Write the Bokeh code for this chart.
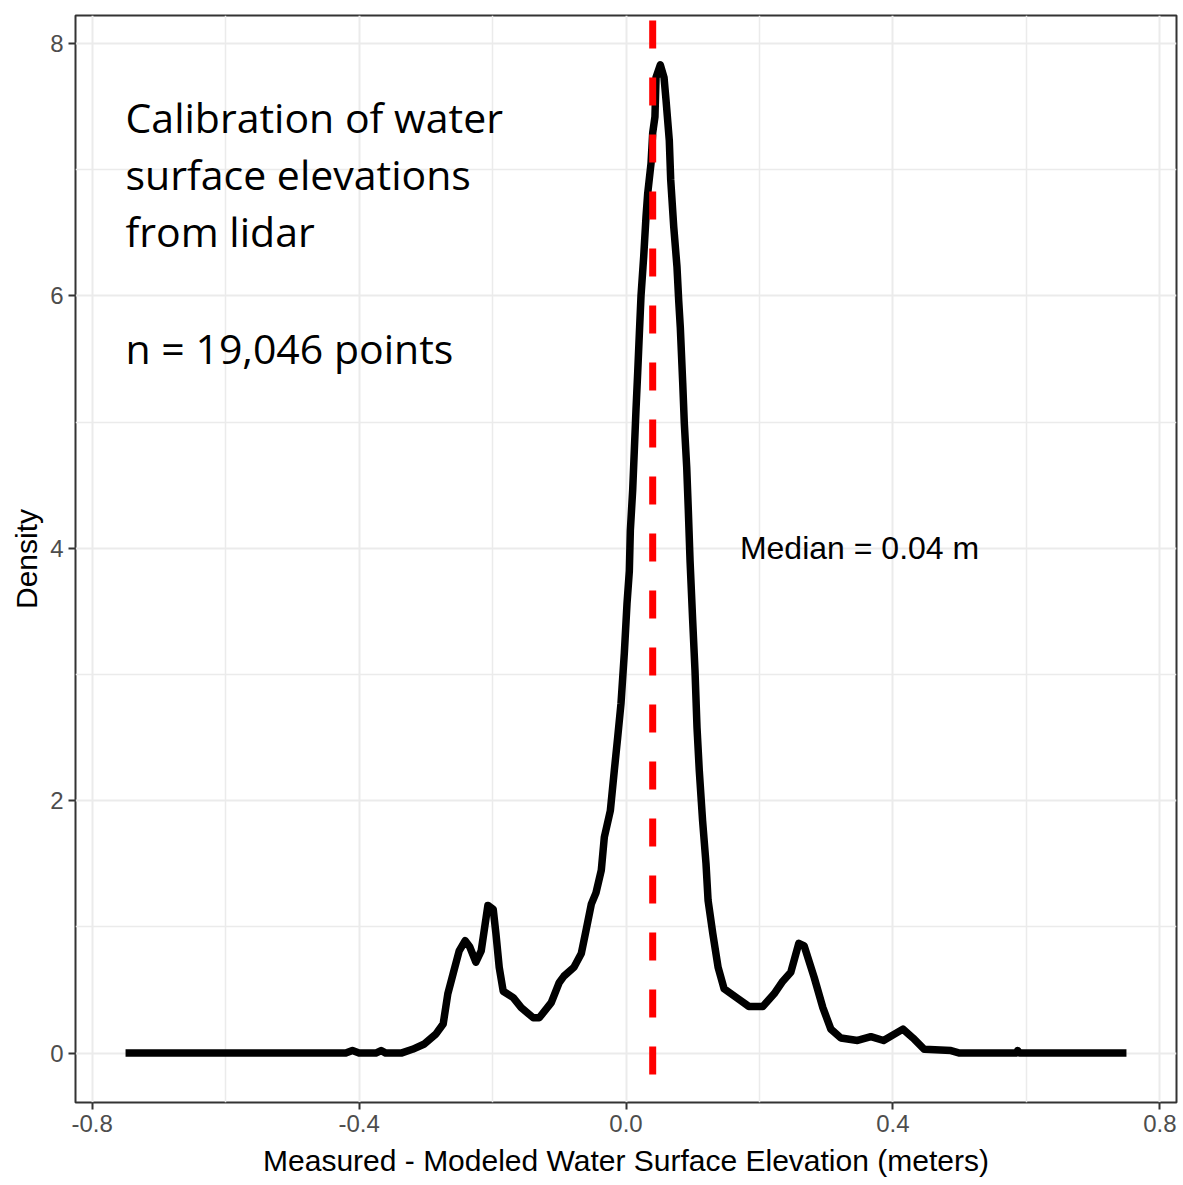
from bokeh.plotting import figure
from bokeh.models import Range1d, FixedTicker, NumeralTickFormatter, Label
from bokeh.embed import file_html
from bokeh.resources import INLINE

# ---- data ----
x_vals = [-0.75, -0.70, -0.60, -0.50, -0.42, -0.41, -0.40, -0.375, -0.367, -0.36,
          -0.337, -0.32, -0.303, -0.285, -0.274, -0.267, -0.259, -0.250, -0.241, -0.234,
          -0.225, -0.217, -0.207, -0.199, -0.195, -0.190, -0.184, -0.169, -0.157, -0.139,
          -0.130, -0.112, -0.100, -0.093, -0.078, -0.067, -0.060, -0.052, -0.045, -0.037,
          -0.0325, -0.0235, -0.0175, -0.0125, -0.0075, -0.0025, 0.0015, 0.005, 0.0065, 0.010,
          0.0125, 0.015, 0.0175, 0.020, 0.0225, 0.0265, 0.030, 0.0325, 0.0375, 0.040,
          0.0434, 0.045, 0.0514, 0.057, 0.060, 0.0649, 0.067, 0.0715, 0.0764, 0.079,
          0.0814, 0.085, 0.0874, 0.091, 0.0934, 0.096, 0.0999, 0.1034, 0.1064, 0.1098,
          0.1148, 0.1199, 0.123, 0.130, 0.138, 0.147, 0.168, 0.184, 0.205, 0.222,
          0.235, 0.247, 0.259, 0.267, 0.282, 0.295, 0.307, 0.322, 0.347, 0.367,
          0.386, 0.415, 0.430, 0.447, 0.487, 0.50, 0.585, 0.587, 0.59, 0.75]
density = [0.0, 0.0, 0.0, 0.0, 0.0, 0.02, 0.0, 0.0, 0.02, 0.0,
           0.0, 0.03, 0.07, 0.15, 0.23, 0.47, 0.63, 0.81, 0.89, 0.84,
           0.72, 0.81, 1.17, 1.14, 0.95, 0.68, 0.49, 0.44, 0.36, 0.28,
           0.28, 0.40, 0.56, 0.61, 0.68, 0.79, 0.97, 1.18, 1.27, 1.45,
           1.71, 1.92, 2.24, 2.50, 2.77, 3.17, 3.56, 3.82, 4.14, 4.46,
           4.78, 5.10, 5.39, 5.70, 6.00, 6.31, 6.63, 6.81, 7.05, 7.29,
           7.42, 7.73, 7.83, 7.73, 7.55, 7.23, 6.92, 6.55, 6.23, 5.96,
           5.75, 5.31, 4.99, 4.64, 4.30, 3.90, 3.43, 3.03, 2.58, 2.24,
           1.84, 1.50, 1.21, 0.95, 0.68, 0.51, 0.43, 0.37, 0.37, 0.47,
           0.57, 0.64, 0.87, 0.85, 0.60, 0.36, 0.19, 0.12, 0.10, 0.13,
           0.10, 0.19, 0.12, 0.03, 0.02, 0.0, 0.0, 0.02, 0.0, 0.0]
median_value = 0.04
x_ticks = [-0.8, -0.4, 0.0, 0.4, 0.8]
x_minor = [-0.6, -0.2, 0.2, 0.6]
y_ticks = [0, 2, 4, 6, 8]
y_minor = [1, 3, 5, 7]
title_lines = ["Calibration of water", "surface elevations", "from lidar", "", "n = 19,046 points"]
median_text = "Median = 0.04 m"

# ggplot-like 5% expansion
xmin, xmax = min(x_vals), max(x_vals)
ymin, ymax = min(density), max(density)
xpad = (xmax - xmin) * 0.05
ypad = (ymax - ymin) * 0.05

p = figure(width=1183, height=1185, output_backend="svg", toolbar_location=None,
           x_range=Range1d(xmin - xpad, xmax + xpad),
           y_range=Range1d(ymin - ypad, ymax + ypad),
           min_border_left=75, min_border_right=7, min_border_top=15, min_border_bottom=83)

p.background_fill_color = "white"
p.border_fill_color = "white"
p.outline_line_color = "#333333"
p.outline_line_width = 2

# axes
p.xaxis.ticker = FixedTicker(ticks=x_ticks, minor_ticks=x_minor)
p.yaxis.ticker = FixedTicker(ticks=y_ticks, minor_ticks=y_minor)
p.xaxis.formatter = NumeralTickFormatter(format="0.0")
for ax in (p.xaxis, p.yaxis):
    ax.axis_line_color = None
    ax.major_tick_line_color = "#333333"
    ax.major_tick_line_width = 2
    ax.major_tick_out = 7
    ax.major_tick_in = 0
    ax.minor_tick_line_color = None
    ax.major_label_text_font = "Liberation Sans"
    ax.major_label_text_font_size = "24px"
    ax.major_label_text_color = "#4D4D4D"
    ax.axis_label_text_font = "Liberation Sans"
    ax.axis_label_text_font_size = "30px"
    ax.axis_label_text_font_style = "normal"
    ax.axis_label_text_color = "black"
    ax.major_label_standoff = 5
p.xaxis.axis_label_standoff = 9
p.yaxis.axis_label_standoff = 4
p.xaxis.axis_label = "Measured - Modeled Water Surface Elevation (meters)"
p.yaxis.axis_label = "Density"

for g in (p.xgrid, p.ygrid):
    g.grid_line_color = "#EBEBEB"
    g.grid_line_width = 2
    g.minor_grid_line_color = "#EBEBEB"
    g.minor_grid_line_width = 1.5

# density curve
p.line(x_vals, density, line_color="black", line_width=7.5, line_join="round", line_cap="butt")

# median dashed line (drawn from the top of the panel downwards)
y_top = ymax + ypad
y_bot = ymin - ypad
p.segment(x0=[median_value], y0=[y_top], x1=[median_value], y1=[y_bot],
          line_color="#FF0000", line_width=7, line_dash="28 29", line_dash_offset=52)

# annotations
p.add_layout(Label(x=0.35, y=4.0, text=median_text, text_align="center", text_baseline="middle",
                   text_font="Liberation Sans", text_font_size="32px", text_color="black"))

line_y = [7.42, 6.965, 6.51, 6.055, 5.59]
for t, yy in zip(title_lines, line_y):
    if t:
        p.add_layout(Label(x=xmin, y=yy, text=t, text_align="left", text_baseline="middle",
                           text_font="Open Sans", text_font_size="41px", text_color="black"))

open("out.html", "w").write(file_html(p, INLINE))
